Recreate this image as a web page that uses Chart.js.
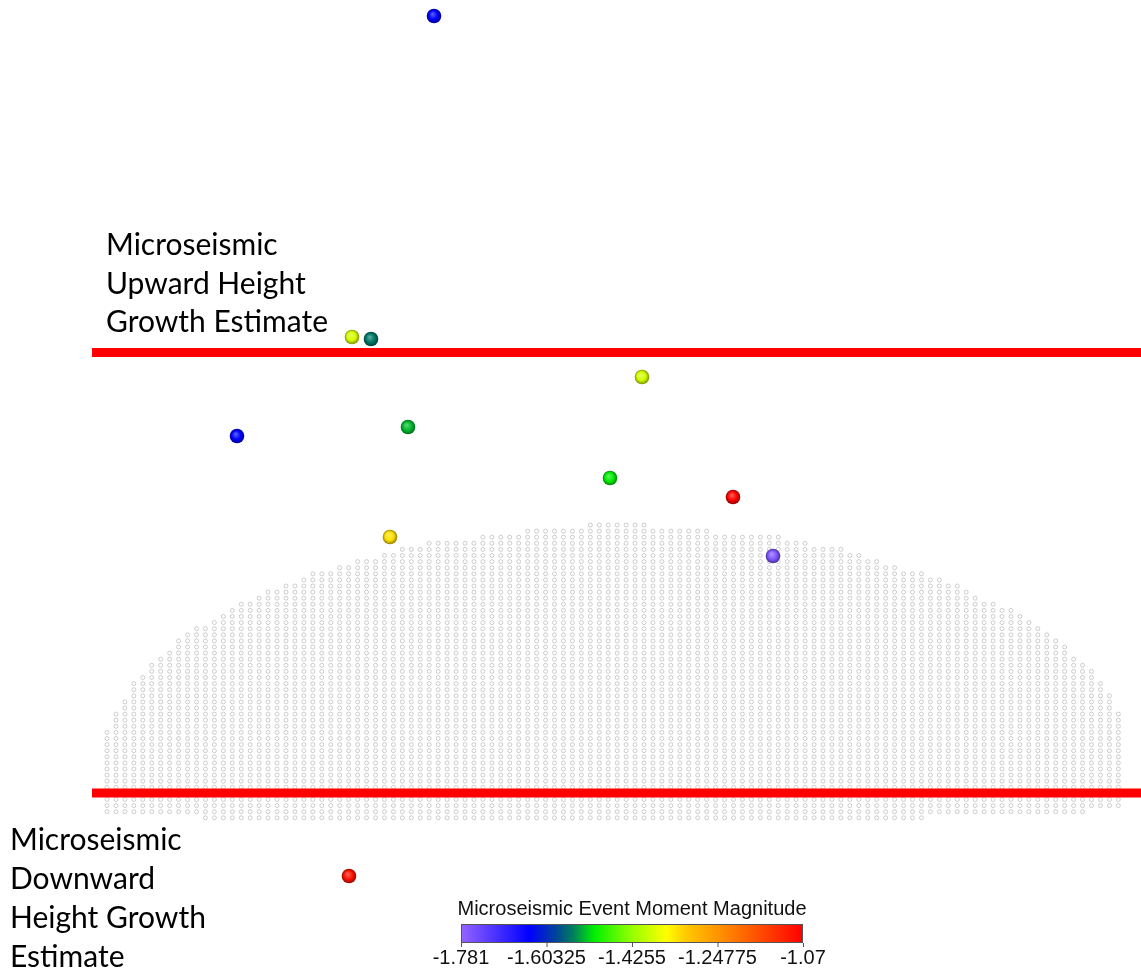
<!DOCTYPE html>
<html>
<head>
<meta charset="utf-8">
<script src="https://cdn.jsdelivr.net/npm/chart.js@4.4.0/dist/chart.umd.min.js"></script>
<style>
  html, body { margin: 0; padding: 0; background: #ffffff; }
  canvas { display: block; }
</style>
</head>
<body>
<canvas id="seismicChart" width="1141" height="973"></canvas>
<script>
// microseismic events (horizontal position, depth, moment magnitude)
const eventX = [434, 352, 371, 642, 237, 408, 610, 733, 390, 773, 349];
const eventDepth = [16, 337, 339, 377, 436, 427, 478, 497, 537, 556, 876];
const eventMag = [-1.639, -1.380, -1.553, -1.385, -1.640, -1.525, -1.505, -1.075, -1.330, -1.760, -1.090];

// height growth estimate lines
const upperDepth = 352.5;
const lowerDepth = 793;
const lineStartX = 92;
const lineEndX = 1141;

// fracture model mesh outline
const meshTopX = [107, 117, 135, 153, 170, 188, 223, 250, 277, 312, 348, 383, 420, 450, 500, 550, 600, 650, 700, 740, 780, 850, 900, 930, 960, 1000, 1020, 1040, 1060, 1080, 1100, 1117, 1126];
const meshTopY = [730, 710, 682, 663, 648, 635, 613, 600, 588, 575, 563, 555, 545, 542, 535, 528, 525, 526, 531, 535, 538, 552, 568, 577, 588, 607, 615, 625, 643, 660, 680, 707, 727];
const meshBottomX = [107, 250, 600, 900, 1126];
const meshBottomY = [813, 820, 823, 819, 810];
const meshColStep = 8.95;
const meshRowStep = 6.1;

// colour bar
const magMin = -1.781;
const magMax = -1.07;
const colorbarTicks = ["-1.781", "-1.60325", "-1.4255", "-1.24775", "-1.07"];
const colorStops = [
  [0.0, [150, 100, 255]],
  [0.2, [0, 0, 255]],
  [0.28, [0, 70, 150]],
  [0.33, [0, 130, 90]],
  [0.39, [0, 240, 0]],
  [0.5, [150, 255, 0]],
  [0.6, [255, 255, 0]],
  [0.66, [255, 200, 0]],
  [0.8, [255, 120, 0]],
  [1.0, [255, 0, 0]]
];

function interp(xs, ys, x) {
  if (x <= xs[0]) return ys[0];
  for (var k = 1; k < xs.length; k++) {
    if (x <= xs[k]) {
      var t = (x - xs[k - 1]) / (xs[k] - xs[k - 1]);
      return ys[k - 1] + t * (ys[k] - ys[k - 1]);
    }
  }
  return ys[ys.length - 1];
}

function magColor(m) {
  var f = Math.max(0, Math.min(1, (m - magMin) / (magMax - magMin)));
  for (var k = 1; k < colorStops.length; k++) {
    if (f <= colorStops[k][0]) {
      var a = colorStops[k - 1], b = colorStops[k];
      var t = (f - a[0]) / (b[0] - a[0]);
      return [0, 1, 2].map(function (c) { return Math.round(a[1][c] + t * (b[1][c] - a[1][c])); });
    }
  }
  return colorStops[colorStops.length - 1][1];
}

function rgb(c, k) {
  return 'rgb(' + c.map(function (v) { return Math.max(0, Math.min(255, Math.round(v * k))); }).join(',') + ')';
}

function sphere(c) {
  var cv = document.createElement('canvas');
  cv.width = 16; cv.height = 16;
  var g = cv.getContext('2d');
  var grad = g.createRadialGradient(6.5, 6, 0.5, 8, 8, 7.5);
  grad.addColorStop(0, 'rgb(' + c.map(function (v) { return Math.round(v + (255 - v) * 0.35); }).join(',') + ')');
  grad.addColorStop(0.55, rgb(c, 1));
  grad.addColorStop(1, rgb(c, 0.55));
  g.beginPath();
  g.arc(8, 8, 7.3, 0, Math.PI * 2);
  g.fillStyle = grad;
  g.fill();
  return cv;
}

// mesh nodes inside the outline
var meshPoints = [];
for (var mx = meshTopX[0]; mx <= meshTopX[meshTopX.length - 1] + 0.1; mx += meshColStep) {
  var meshTop = interp(meshTopX, meshTopY, mx);
  var meshBottom = interp(meshBottomX, meshBottomY, mx);
  for (var my = 525; my <= meshBottom; my += meshRowStep) {
    if (my >= meshTop - 1) meshPoints.push({ x: mx, y: my });
  }
}

var eventPoints = eventX.map(function (v, i) { return { x: v, y: eventDepth[i] }; });
var eventStyles = eventMag.map(function (m) { return sphere(magColor(m)); });

const overlay = {
  id: 'overlay',
  afterDraw: function (chart) {
    var ctx = chart.ctx;
    ctx.save();
    ctx.fillStyle = '#000000';
    ctx.textBaseline = 'alphabetic';
    ctx.textAlign = 'left';
    ctx.font = '30px Lato';
    ['Microseismic', 'Upward Height', 'Growth Estimate'].forEach(function (s, i) {
      ctx.fillText(s, 106, 255 + i * 38.5);
    });
    ['Microseismic', 'Downward', 'Height Growth', 'Estimate'].forEach(function (s, i) {
      ctx.fillText(s, 10, 850 + i * 39);
    });

    // colour bar
    var bx0 = 461, bx1 = 803, by0 = 924, by1 = 943;
    var grad = ctx.createLinearGradient(bx0, 0, bx1, 0);
    colorStops.forEach(function (s) { grad.addColorStop(s[0], rgb(s[1], 1)); });
    ctx.fillStyle = grad;
    ctx.fillRect(bx0, by0, bx1 - bx0, by1 - by0);
    ctx.strokeStyle = '#555555';
    ctx.lineWidth = 1;
    ctx.strokeRect(bx0 + 0.5, by0 + 0.5, bx1 - bx0 - 1, by1 - by0 - 1);
    ctx.fillStyle = '#111111';
    ctx.textAlign = 'center';
    ctx.font = '20px "Liberation Sans"';
    ctx.fillText('Microseismic Event Moment Magnitude', (bx0 + bx1) / 2, 915);
    colorbarTicks.forEach(function (t, i) {
      var tx = bx0 + (bx1 - bx0) * i / (colorbarTicks.length - 1);
      ctx.fillText(t, tx, 964);
      ctx.beginPath();
      ctx.moveTo(tx + 0.5, by1);
      ctx.lineTo(tx + 0.5, by1 + 4);
      ctx.strokeStyle = '#555555';
      ctx.stroke();
    });
    ctx.restore();
  }
};

const CHART = document.getElementById("seismicChart");
var seismicChart = new Chart(CHART, {
  type: 'scatter',
  data: {
    datasets: [
      {
        label: 'Microseismic events',
        data: eventPoints,
        pointStyle: eventStyles,
        pointRadius: 8,
        order: 0
      },
      {
        label: 'Upward height growth estimate',
        data: [{ x: lineStartX, y: upperDepth }, { x: lineEndX, y: upperDepth }],
        showLine: true,
        borderColor: '#ff0000',
        borderWidth: 9,
        pointRadius: 0,
        order: 1
      },
      {
        label: 'Downward height growth estimate',
        data: [{ x: lineStartX, y: lowerDepth }, { x: lineEndX, y: lowerDepth }],
        showLine: true,
        borderColor: '#ff0000',
        borderWidth: 9,
        pointRadius: 0,
        order: 1
      },
      {
        label: 'Fracture model mesh',
        data: meshPoints,
        pointStyle: 'circle',
        pointRadius: 2,
        borderWidth: 0.7,
        borderColor: 'rgba(140,140,140,0.6)',
        backgroundColor: 'rgba(0,0,0,0)',
        order: 2
      }
    ]
  },
  options: {
    responsive: false,
    animation: false,
    layout: { padding: 0, autoPadding: false },
    plugins: {
      legend: { display: false },
      tooltip: { enabled: false }
    },
    scales: {
      x: { type: 'linear', min: 0, max: 1141, display: false },
      y: { type: 'linear', min: 0, max: 973, reverse: true, display: false }
    }
  },
  plugins: [overlay]
});
</script>
</body>
</html>
